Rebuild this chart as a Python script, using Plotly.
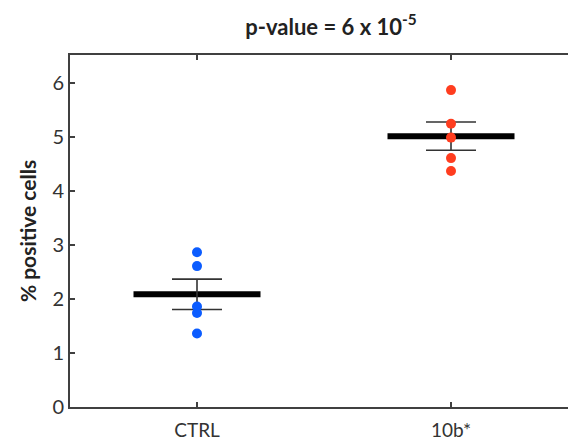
import numpy as np
import plotly.graph_objects as go

# Groups and measured % positive cells per replicate
groups = ["CTRL", "10b*"]
ctrl_values = [2.865, 2.61, 1.86, 1.74, 1.36]
treated_values = [5.87, 5.245, 4.99, 4.61, 4.37]
y_ticks = [0, 1, 2, 3, 4, 5, 6]

series = [ctrl_values, treated_values]
colors = ["#0b5cff", "#ff3d1f"]
positions = [1, 2]

font_family = "Lato, 'Open Sans', sans-serif"
axis_color = "#404040"

fig = go.Figure()

means = [float(np.mean(v)) for v in series]
sems = [float(np.std(v, ddof=1) / np.sqrt(len(v))) for v in series]

# Thick horizontal bar at each group mean
for pos, m in zip(positions, means):
    fig.add_trace(go.Scatter(
        x=[pos - 0.25, pos + 0.25], y=[m, m], mode="lines",
        line=dict(color="black", width=6), hoverinfo="skip", showlegend=False,
    ))

# Mean +/- SEM whiskers
fig.add_trace(go.Scatter(
    x=positions, y=means, mode="markers",
    marker=dict(size=1, color="rgba(0,0,0,0)"),
    error_y=dict(type="data", array=sems, visible=True,
                 color="#333333", thickness=1.6, width=25),
    showlegend=False, hoverinfo="skip",
))

# Individual replicate points
for pos, vals, c in zip(positions, series, colors):
    fig.add_trace(go.Scatter(
        x=[pos] * len(vals), y=vals, mode="markers",
        marker=dict(size=10, color=c, line=dict(width=0)),
        showlegend=False,
    ))

fig.update_layout(
    width=568, height=445,
    margin=dict(l=70, r=0, t=55, b=38),
    plot_bgcolor="white", paper_bgcolor="white",
    font=dict(family=font_family, color="#333333"),
    title=dict(
        text="<b>p-value = 6 x 10<sup>-5</sup></b>",
        xref="container", yref="container",
        x=331 / 568, y=1 - 27 / 445, xanchor="center", yanchor="middle",
        font=dict(size=22, color="#222222", family=font_family),
    ),
    xaxis=dict(
        range=[0.5, 0.5 + 498 / 254], tickvals=positions, ticktext=groups,
        showgrid=False, zeroline=False, showline=True, linecolor=axis_color,
        linewidth=2, mirror="ticks", ticks="inside", ticklen=5, tickwidth=1.5,
        tickcolor=axis_color, tickfont=dict(size=19, color="#333333"),
        ticklabelstandoff=5,
    ),
    yaxis=dict(
        range=[0, 6.52], tickvals=y_ticks,
        showgrid=False, zeroline=False, showline=True, linecolor=axis_color,
        linewidth=2, mirror=False, ticks="inside", ticklen=5, tickwidth=1.5,
        tickcolor=axis_color, tickfont=dict(size=20, color="#333333"),
        title=dict(text="<b>% positive cells</b>", standoff=10,
                   font=dict(size=21, color="#222222")),
    ),
)

fig.write_html("out.html")
